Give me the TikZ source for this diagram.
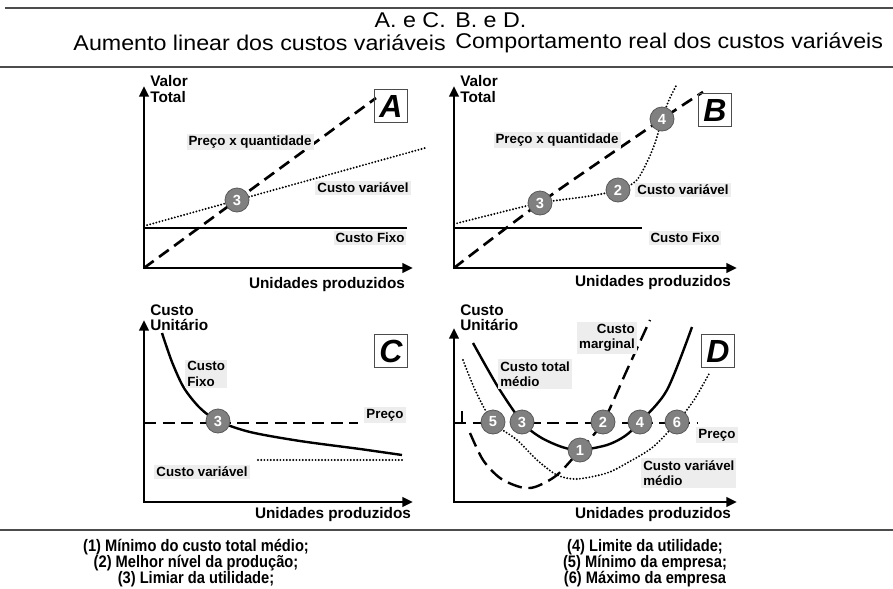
\documentclass[tikz,border=0pt]{standalone}
\usepackage{fontspec}
\setmainfont{Liberation Sans}
\newfontfamily\narrowfont[FakeStretch=0.88]{Liberation Sans}
\newfontfamily\widefont[FakeStretch=1.09]{Liberation Sans}
\usetikzlibrary{arrows.meta}

\begin{document}
\begin{tikzpicture}[x=0.75pt, y=-0.75pt,
		axis/.style={line width=2pt, {Triangle[length=8pt,width=7pt]}-{Triangle[length=8pt,width=7pt]}},
		preco/.style={line width=2pt, dash pattern=on 9pt off 5pt},
		pontilhado/.style={line width=1.6pt, line cap=round, dash pattern=on 0pt off 2.4pt},
		fixo/.style={line width=0.8pt},
		marginal/.style={line width=1.8pt, dash pattern=on 11pt off 5pt},
		lbl/.style={fill=black!7, inner sep=1.5pt, font=\bfseries\fontsize{10}{11.5}\selectfont},
		eixo/.style={inner sep=0pt, font=\bfseries\fontsize{11.5}{11.5}\selectfont},
		ponto/.style={circle, fill=black!50, draw=black!65, line width=0.6pt, minimum size=18pt, inner sep=0pt, text=white, font=\bfseries\fontsize{11}{11}\selectfont},
		letra/.style={draw=black!70, line width=1.2pt, minimum size=25pt, inner sep=0pt, font=\bfseries\itshape\fontsize{24}{24}\selectfont},
		cab/.style={inner sep=0pt, font=\widefont\fontsize{16}{16}\selectfont},
		leg/.style={inner sep=0pt, align=center, font=\narrowfont\bfseries\fontsize{12.5}{11.8}\selectfont}]
	\useasboundingbox (0,0) rectangle (893,589);
	\draw[line width=1pt, black!70] (5,8) -- (893,8);
	\draw[line width=1pt, black!70] (0,67) -- (893,67);
	\draw[line width=1pt, black!70] (0,530) -- (893,530);
	\node[cab, anchor=east] (tAC) at (446,20) {A. e C.};
	\node[cab, anchor=west] (tBD) at (455,20) {B. e D.};
	\node[cab, anchor=east] (subAC) at (446,43) {Aumento linear dos custos variáveis};
	\node[cab, anchor=west] (subBD) at (455,43) {Comportamento real dos custos variáveis};

	\coordinate (oA) at (144,268);
	\coordinate (yA) at (144,86);
	\coordinate (xA) at (413,268);
	\draw[axis] (yA) -- (oA) -- (xA);
	\draw[fixo] (144,228) -- (407,228);
	\draw[pontilhado] (144,226) -- (425,148);
	\draw[preco] (oA) -- (376,98);
	\node[ponto] (a3) at (237,200) {3};
	\node[letra] (boxA) at (391,106) {A};
	\node[lbl] (pqA) at (250,142) {Preço x quantidade};
	\node[lbl] (cvA) at (363,188) {Custo variável};
	\node[lbl] (cfA) at (370,238) {Custo Fixo};
	\node[eixo] (uA) at (327,285) {Unidades produzidos};
	\node[eixo, align=left, anchor=west] (vA) at (150,89) {Valor\\Total};

	\coordinate (oB) at (454,268);
	\coordinate (yB) at (454,86);
	\coordinate (xB) at (737,268);
	\draw[axis] (yB) -- (oB) -- (xB);
	\draw[fixo] (454,228) -- (642,228);
	\draw[pontilhado] plot[smooth] coordinates {(454,224) (490,215) (540,203) (590,196) (618,190) (636,181) (648,160) (656,140) (662,119) (669,100) (677,84)};
	\draw[preco] plot[smooth] coordinates {(454,268) (540,203) (662,119) (703,92)};
	\node[ponto] (b3) at (540,203) {3};
	\node[ponto] (b2) at (618,190) {2};
	\node[ponto] (b4) at (662,119) {4};
	\node[letra] (boxB) at (715,110) {B};
	\node[lbl] (pqB) at (557,140) {Preço x quantidade};
	\node[lbl] (cvB) at (683,190) {Custo variável};
	\node[lbl] (cfB) at (685,238) {Custo Fixo};
	\node[eixo] (uB) at (653,283) {Unidades produzidos};
	\node[eixo, align=left, anchor=west] (vB) at (460,89) {Valor\\Total};

	\coordinate (oC) at (144,502);
	\coordinate (yC) at (144,320);
	\coordinate (xC) at (413,502);
	\draw[axis] (yC) -- (oC) -- (xC);
	\draw[line width=1.8pt] plot[smooth] coordinates {(162,333) (172,362) (184,388) (200,408) (218,421) (250,432) (300,441) (360,449) (402,455)};
	\draw[preco] (144,423) -- (358,423);
	\draw[pontilhado] (258,460) -- (403,460);
	\node[ponto] (c3) at (218,421) {3};
	\node[letra] (boxC) at (391,351) {C};
	\node[lbl, align=left, anchor=west] (cfC) at (185,374) {Custo\\Fixo};
	\node[lbl] (prC) at (385,415) {Preço};
	\node[lbl] (cvC) at (202,472) {Custo variável};
	\node[eixo] (uC) at (333,515) {Unidades produzidos};
	\node[eixo, align=left, anchor=west] (vC) at (150,318) {Custo\\Unitário};

	\coordinate (oD) at (454,502);
	\coordinate (yD) at (454,328);
	\coordinate (xD) at (737,502);
	\draw[axis] (yD) -- (oD) -- (xD);
	\draw[preco] (454,423) -- (697,423);
	\draw[fixo] (462,411) -- (462,423);
	\draw[line width=1.8pt] plot[smooth] coordinates {(473,343) (498,387) (522,422) (540,437) (562,447) (580,450) (607,445) (625,436) (640,422) (667,390) (692,327)};
	\draw[marginal] plot[smooth] coordinates {(470,433) (483,460) (500,478) (520,487) (535,487) (557,475) (580,450) (603,422) (627,370) (650,320)};
	\draw[pontilhado] plot[smooth] coordinates {(463,360) (476,392) (493,422) (517,440) (537,460) (557,475) (577,479) (607,473) (627,463) (653,447) (677,422) (694,400) (710,372)};
	\node[ponto] (d5) at (493,422) {5};
	\node[ponto] (d3) at (522,422) {3};
	\node[ponto] (d2) at (603,422) {2};
	\node[ponto] (d4) at (640,422) {4};
	\node[ponto] (d6) at (677,422) {6};
	\node[ponto] (d1) at (580,450) {1};
	\node[letra] (boxD) at (718,351) {D};
	\node[lbl, align=right, anchor=east] (cmD) at (637,338) {Custo\\marginal};
	\node[lbl, align=left, anchor=west] (ctD) at (498,374) {Custo total\\médio};
	\node[lbl] (prD) at (717,435) {Preço};
	\node[lbl, align=left, anchor=west] (cvD) at (641,473) {Custo variável\\médio};
	\node[eixo] (uD) at (653,515) {Unidades produzidos};
	\node[eixo, align=left, anchor=west] (vD) at (460,318) {Custo\\Unitário};

	\node[leg] (legE) at (196,563) {(1) Mínimo do custo total médio;\\(2) Melhor nível da produção;\\(3) Limiar da utilidade;};
	\node[leg] (legD) at (645,563) {(4) Limite da utilidade;\\(5) Mínimo da empresa;\\(6) Máximo da empresa};
\end{tikzpicture}
\end{document}
